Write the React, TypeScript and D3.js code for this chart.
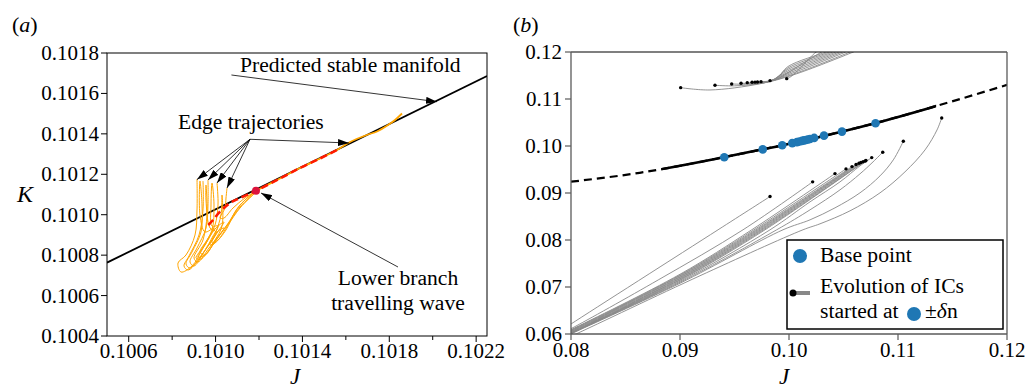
import React from 'react';
import * as d3 from 'd3';

type P = [number, number];
const FONT = '"Liberation Serif"';

// ---------------- Panel (a) data ----------------
const aJMajor = [0.1006, 0.101, 0.1014, 0.1018, 0.1022];
const aJMinor = [0.1008, 0.1012, 0.1016, 0.102];
const aKTicks = [0.1004, 0.1006, 0.1008, 0.101, 0.1012, 0.1014, 0.1016, 0.1018];
const stableManifold: P[] = [[0.1005, 0.100763], [0.10225, 0.101686]];
const lbWave: P = [0.1011862, 0.1011188];

const edgeTraj1: P[] = [
  [0.1009145, 0.1011767], [0.1009145, 0.1010233], [0.1009053, 0.1008996], [0.1008638, 0.1008007],
  [0.100827, 0.1007611], [0.1008408, 0.1007166], [0.1008915, 0.1007463], [0.1009375, 0.1008254],
  [0.1009743, 0.1008947], [0.1009928, 0.1009343], [0.1009513, 0.1009145], [0.1009283, 0.1009986],
  [0.1009283, 0.1011668], [0.1009375, 0.1010481], [0.1009329, 0.1009145], [0.1008915, 0.1008155],
  [0.1008638, 0.1007562], [0.1008822, 0.1007364], [0.1009283, 0.1007908], [0.100979, 0.100865],
  [0.1010158, 0.1009244], [0.1010388, 0.1009639], [0.1009974, 0.1009293], [0.1009513, 0.1008502],
  [0.1009099, 0.1007859], [0.1009329, 0.1007809], [0.1009836, 0.1008452], [0.1010296, 0.1009145],
  [0.1010618, 0.1009639], [0.1011125, 0.1010481], [0.1011862, 0.1011173],
];
const edgeTraj2: P[] = [
  [0.1009651, 0.1011717], [0.1009651, 0.1010481], [0.1009559, 0.1009343], [0.1009145, 0.1008353],
  [0.1008822, 0.1007661], [0.1009007, 0.1007463], [0.1009467, 0.1008155], [0.1009882, 0.1008947],
  [0.1010112, 0.1009442], [0.1009836, 0.1009442], [0.100979, 0.1010481], [0.1009836, 0.1011569],
  [0.1009928, 0.1010481], [0.1009836, 0.1009244], [0.1009421, 0.1008403], [0.1009191, 0.1007908],
  [0.1009513, 0.1008007], [0.101002, 0.1008749], [0.1010388, 0.1009343], [0.1010066, 0.1009145],
  [0.1009743, 0.1008502], [0.1009974, 0.1008601], [0.101048, 0.1009244], [0.1010895, 0.1010134],
  [0.1011355, 0.1010728], [0.1011862, 0.1011173],
];
const edgeTraj3: P[] = [
  [0.1010066, 0.1011569], [0.1010112, 0.1010481], [0.1009974, 0.1009491], [0.1009605, 0.1008749],
  [0.1009283, 0.1008155], [0.1009513, 0.1008007], [0.1009974, 0.1008749], [0.1010296, 0.1009442],
  [0.1010296, 0.1010975], [0.101025, 0.1009986], [0.101002, 0.1009145], [0.1009836, 0.1008601],
  [0.1010112, 0.1008749], [0.1010572, 0.1009491], [0.1011125, 0.1010332], [0.1011862, 0.1011124],
];
const edgeTraj4: P[] = [
  [0.1010526, 0.1011322], [0.101048, 0.1010827], [0.1010434, 0.1010332], [0.1010204, 0.1009837],
  [0.1010388, 0.1009837], [0.1010803, 0.1010332], [0.1011355, 0.1010827], [0.1011862, 0.1011173],
];
const edgeTraj5: P[] = [
  [0.1009421, 0.1011668], [0.1009421, 0.1010233], [0.1009237, 0.1008996], [0.1008776, 0.1007958],
  [0.1008546, 0.1007463], [0.100873, 0.1007265], [0.1009145, 0.1007661], [0.1009605, 0.1008403],
  [0.101002, 0.1009145], [0.1009743, 0.1009343], [0.1009559, 0.1010728], [0.1009559, 0.101147],
  [0.1009605, 0.1009986], [0.1009421, 0.1008749], [0.1009007, 0.1007859], [0.1009191, 0.1007661],
  [0.1009697, 0.1008353], [0.1010204, 0.1009046], [0.1010572, 0.1009541], [0.1011125, 0.1010382],
  [0.1011862, 0.1011124],
];
const convergedTraj: P[] = [
  [0.1011862, 0.1011188], [0.1012967, 0.1011792], [0.1013888, 0.1012311], [0.1014809, 0.1012781],
  [0.1015592, 0.1013201], [0.1016191, 0.1013597], [0.101696, 0.1013943], [0.1017434, 0.1014117],
  [0.1017941, 0.1014438], [0.1018263, 0.1014686], [0.1018586, 0.1015007],
];
const unstableManifold: P[] = [
  [0.1009665, 0.1009491], [0.1009882, 0.1009739], [0.1010204, 0.1010149], [0.1010664, 0.1010579],
  [0.1011125, 0.1010827], [0.1011862, 0.1011188], [0.1012967, 0.1011792], [0.1013888, 0.1012311],
  [0.1014809, 0.1012781], [0.1015592, 0.1013201],
];

// ---------------- Panel (b) data ----------------
const bJTicks = [0.08, 0.09, 0.1, 0.11, 0.12];
const bKTicks = [0.06, 0.07, 0.08, 0.09, 0.1, 0.11, 0.12];
const bManifold: P[] = [
  [0.08, 0.0924], [0.0863, 0.0943], [0.094, 0.0976], [0.0976, 0.0993], [0.1003, 0.1006],
  [0.1049, 0.1031], [0.1079, 0.10485], [0.1135, 0.1085], [0.12, 0.113],
];
const bSolidRange = [0.0883, 0.1135];
const baseJ = [0.09406, 0.09759, 0.09938, 0.1003, 0.10073, 0.10096, 0.10119, 0.10138, 0.10156, 0.10174, 0.10193, 0.10231, 0.10321, 0.10486, 0.10794];
const baseK = [0.09762, 0.09928, 0.10017, 0.10061, 0.10083, 0.10096, 0.10108, 0.10119, 0.10128, 0.10138, 0.10149, 0.10172, 0.1022, 0.10306, 0.10485];

const upperTraj: P[][] = [
  [[0.09006, 0.11241], [0.09275, 0.11192], [0.09734, 0.11324], [0.10037, 0.11511], [0.1059, 0.12], [0.1066, 0.1207]],
  [[0.09321, 0.11292], [0.095, 0.1128], [0.0976, 0.1134], [0.1004, 0.1153], [0.1056, 0.12], [0.1063, 0.1207]],
  [[0.09474, 0.1132], [0.096, 0.11315], [0.0978, 0.1135], [0.1003, 0.1155], [0.1052, 0.12], [0.1059, 0.1207]],
  [[0.0956, 0.11335], [0.0968, 0.11335], [0.098, 0.1136], [0.1002, 0.1157], [0.1049, 0.12], [0.1056, 0.1207]],
  [[0.09617, 0.11348], [0.0972, 0.11345], [0.0982, 0.11375], [0.1001, 0.1159], [0.1046, 0.12], [0.1053, 0.1207]],
  [[0.09661, 0.11356], [0.0975, 0.11355], [0.0983, 0.11385], [0.1, 0.1161], [0.1043, 0.12], [0.105, 0.1207]],
  [[0.09688, 0.11358], [0.0977, 0.1136], [0.0985, 0.114], [0.0999, 0.1163], [0.104, 0.12], [0.1047, 0.1207]],
  [[0.09711, 0.11362], [0.0979, 0.1137], [0.0987, 0.1142], [0.0999, 0.1166], [0.1037, 0.12], [0.1044, 0.1207]],
  [[0.09743, 0.11369], [0.0981, 0.1138], [0.0989, 0.1144], [0.0999, 0.1169], [0.1034, 0.12], [0.1041, 0.1207]],
  [[0.09826, 0.1139], [0.0988, 0.1141], [0.0995, 0.115], [0.103, 0.12], [0.1037, 0.1207]],
  [[0.09979, 0.11433], [0.1002, 0.1148], [0.101, 0.1165], [0.1025, 0.12], [0.1032, 0.1207]],
];

const lowerTraj: P[][] = [
  [[0.09826, 0.08925], [0.09349, 0.08217], [0.08, 0.06213], [0.079, 0.0606]],
  [[0.10217, 0.09237], [0.09578, 0.08217], [0.088, 0.0715], [0.08, 0.06113], [0.079, 0.06]],
  [[0.10422, 0.09413], [0.09658, 0.08217], [0.09, 0.07271], [0.08, 0.06091], [0.079, 0.0598]],
  [[0.10523, 0.09513], [0.09679, 0.08217], [0.09, 0.07254], [0.08, 0.06081], [0.079, 0.0597]],
  [[0.10578, 0.09562], [0.09697, 0.08217], [0.09, 0.07239], [0.08, 0.0607], [0.079, 0.0596]],
  [[0.10615, 0.09605], [0.09711, 0.08217], [0.09, 0.07222], [0.08, 0.06059], [0.079, 0.0595]],
  [[0.10642, 0.09634], [0.09725, 0.08217], [0.09, 0.07207], [0.08, 0.06049], [0.079, 0.0594]],
  [[0.1066, 0.0965], [0.09739, 0.08217], [0.09, 0.0719], [0.08, 0.06038], [0.079, 0.0593]],
  [[0.1068, 0.09665], [0.09752, 0.08217], [0.09, 0.07175], [0.08, 0.06028], [0.079, 0.0592]],
  [[0.107, 0.0968], [0.09766, 0.08217], [0.09, 0.07158], [0.08, 0.06021], [0.079, 0.0591]],
  [[0.10706, 0.0969], [0.0978, 0.08217], [0.09, 0.07143], [0.08, 0.06015], [0.079, 0.059]],
  [[0.10759, 0.09753], [0.10651, 0.09577], [0.10468, 0.09237], [0.10193, 0.08812], [0.09826, 0.08217], [0.09, 0.07122], [0.08, 0.06011], [0.079, 0.0589]],
  [[0.1086, 0.09868], [0.10771, 0.09662], [0.10651, 0.09407], [0.10468, 0.09067], [0.10193, 0.08642], [0.09887, 0.08217], [0.09, 0.07101], [0.08, 0.06006], [0.079, 0.0589]],
  [[0.11049, 0.10102], [0.10957, 0.09705], [0.10835, 0.09364], [0.10651, 0.09003], [0.10422, 0.08684], [0.10193, 0.08429], [0.09945, 0.08217], [0.09, 0.0708], [0.08, 0.06002], [0.079, 0.0589]],
  [[0.11401, 0.10597], [0.11358, 0.10342], [0.11248, 0.09917], [0.11064, 0.0945], [0.10835, 0.09003], [0.1056, 0.08621], [0.10284, 0.08344], [0.10128, 0.08217], [0.09183, 0.07239], [0.08046, 0.06], [0.0795, 0.059]],
];

// annotation anchors (data coordinates of panel a)
const annPSM = { text: [0.1011125, 0.101706] as P, tail: [0.101073, 0.1016912] as P, tip: [0.1020197, 0.101559] as P };
const annEdge = {
  text: [0.100827, 0.101424] as P,
  tail: [0.1011586, 0.1013731] as P,
  tips: [[0.1009145, 0.1011742], [0.1009651, 0.1011717], [0.1010066, 0.1011569], [0.1010526, 0.1011322], [0.1016145, 0.1013548]] as P[],
};
const annLB = { tail: [0.1018401, 0.1007413] as P, tip: [0.1012092, 0.1011074] as P, text: [0.1018401, 0.1006523] as P, text2: [0.1018401, 0.1005286] as P };

function T(props: any) {
  const { children, ...rest } = props;
  return <text {...rest} style={{ fontFamily: FONT }}>{children}</text>;
}

export default function App() {
  const W = 1028, H = 388;
  // Panel a
  const aL = 107, aR = 487, aT = 53, aB = 336;
  const ax = d3.scaleLinear().domain([0.1005, 0.10225]).range([aL, aR]);
  const ay = d3.scaleLinear().domain([0.1004, 0.1018]).range([aB, aT]);
  const lineA = d3.line<P>().x(d => ax(d[0])).y(d => ay(d[1])).curve(d3.curveCatmullRom.alpha(0.5));
  const straightA = d3.line<P>().x(d => ax(d[0])).y(d => ay(d[1]));
  // Panel b
  const bL = 571, bR = 1007, bT = 52, bB = 334;
  const bx = d3.scaleLinear().domain([0.08, 0.12]).range([bL, bR]);
  const by = d3.scaleLinear().domain([0.06, 0.12]).range([bB, bT]);
  const lineB = d3.line<P>().x(d => bx(d[0])).y(d => by(d[1])).curve(d3.curveCatmullRom.alpha(0.5));
  const lineBm = d3.line<P>().x(d => bx(d[0])).y(d => by(d[1])).curve(d3.curveMonotoneX);

  const fs = 21;
  const fa = 21.6;
  const gray = '#5a5a5a';
  const orange = '#ffa500';
  const edges = [edgeTraj1, edgeTraj5, edgeTraj2, edgeTraj3, edgeTraj4];

  const arrow = (from: P, to: P, key: string) => (
    <line key={key} x1={ax(from[0])} y1={ay(from[1])} x2={ax(to[0])} y2={ay(to[1])}
      stroke="#000" strokeWidth={0.8} markerEnd="url(#arrowHead)" />
  );

  return (
    <svg width={W} height={H} style={{ position: 'absolute', left: 0, top: 0 }}>
      <defs>
        <marker id="arrowHead" viewBox="0 0 11 7" refX={11} refY={3.5} markerWidth={11} markerHeight={7}
          markerUnits="userSpaceOnUse" orient="auto">
          <path d="M0,0 L11,3.5 L0,7 z" fill="#000" />
        </marker>
        <clipPath id="clipA"><rect x={aL} y={aT} width={aR - aL} height={aB - aT} /></clipPath>
        <clipPath id="clipB"><rect x={bL} y={bT} width={bR - bL} height={bB - bT} /></clipPath>
        <clipPath id="clipSolid">
          <rect x={bx(bSolidRange[0])} y={bT} width={bx(bSolidRange[1]) - bx(bSolidRange[0])} height={bB - bT} />
        </clipPath>
      </defs>
      <rect x={0} y={0} width={W} height={H} fill="#fff" />

      {/* ================= Panel (a) ================= */}
      <T x={12} y={32} fontSize={22}>(<tspan fontStyle="italic">a</tspan>)</T>
      <g clipPath="url(#clipA)">
        <path d={straightA(stableManifold) || ''} stroke="#000" strokeWidth={1.8} fill="none" />
        {edges.map((t, i) => (
          <path key={'e' + i} d={lineA(t) || ''} stroke={orange} strokeWidth={1} fill="none" />
        ))}
        <path d={lineA(convergedTraj) || ''} stroke={orange} strokeWidth={1.8} fill="none" />
        <path d={lineA(unstableManifold) || ''} stroke="#ff1a00" strokeWidth={2.6} fill="none" strokeDasharray="7 4" />
        <circle cx={ax(lbWave[0])} cy={ay(lbWave[1])} r={4} fill="#dc143c" />
      </g>
      {/* axes a */}
      <rect x={aL} y={aT} width={aR - aL} height={aB - aT} fill="none" stroke="#000" strokeWidth={1} />
      {aKTicks.map(k => (
        <g key={'ak' + k}>
          <line x1={aL - 6} x2={aL} y1={ay(k)} y2={ay(k)} stroke="#000" />
          <T x={aL - 8} y={ay(k) + 7} textAnchor="end" fontSize={fs}>{k.toFixed(4)}</T>
        </g>
      ))}
      {aJMajor.map(j => (
        <g key={'aj' + j}>
          <line x1={ax(j)} x2={ax(j)} y1={aB} y2={aB + 6} stroke="#000" />
          <T x={ax(j)} y={aB + 22} textAnchor="middle" fontSize={fs}>{j.toFixed(4)}</T>
        </g>
      ))}
      {aJMinor.map(j => (
        <line key={'ajm' + j} x1={ax(j)} x2={ax(j)} y1={aB} y2={aB + 4} stroke="#000" />
      ))}
      <T x={17} y={202} fontSize={24} fontStyle="italic">K</T>
      <T x={290} y={384} fontSize={23} fontStyle="italic">J</T>

      {/* annotations a */}
      <T x={ax(annPSM.text[0])} y={ay(annPSM.text[1])} fontSize={fa}>Predicted stable manifold</T>
      {arrow(annPSM.tail, annPSM.tip, 'psm')}
      <T x={ax(annEdge.text[0])} y={ay(annEdge.text[1])} fontSize={fa}>Edge trajectories</T>
      {annEdge.tips.map((t, i) => arrow(annEdge.tail, t, 'et' + i))}
      {arrow(annLB.tail, annLB.tip, 'lb')}
      <T x={ax(annLB.text[0])} y={ay(annLB.text[1])} textAnchor="middle" fontSize={fa}>Lower branch</T>
      <T x={ax(annLB.text2[0])} y={ay(annLB.text2[1])} textAnchor="middle" fontSize={fa}>travelling wave</T>

      {/* ================= Panel (b) ================= */}
      <T x={513} y={32} fontSize={22}>(<tspan fontStyle="italic">b</tspan>)</T>
      <g clipPath="url(#clipB)">
        {upperTraj.map((t, i) => (
          <path key={'u' + i} d={lineB(t) || ''} stroke="#888" strokeWidth={0.9} fill="none" />
        ))}
        {lowerTraj.map((t, i) => (
          <path key={'l' + i} d={lineB(t) || ''} stroke="#888" strokeWidth={0.9} fill="none" />
        ))}
        {upperTraj.concat(lowerTraj).map((t, i) => (
          <circle key={'d' + i} cx={bx(t[0][0])} cy={by(t[0][1])} r={1.7} fill="#000" />
        ))}
        <path d={lineBm(bManifold) || ''} stroke="#000" strokeWidth={2.2} fill="none" strokeDasharray="8 5" />
        <g clipPath="url(#clipSolid)">
          <path d={lineBm(bManifold) || ''} stroke="#000" strokeWidth={2.6} fill="none" />
        </g>
        {baseJ.map((j, i) => (
          <circle key={'bp' + i} cx={bx(j)} cy={by(baseK[i])} r={4.3} fill="#1f77b4" />
        ))}
      </g>
      {/* axes b */}
      <line x1={bL} x2={bR} y1={bT} y2={bT} stroke="#000" strokeWidth={1.1} />
      <line x1={bL} x2={bL} y1={bT} y2={bB} stroke={gray} strokeWidth={1.3} />
      <line x1={bR} x2={bR} y1={bT} y2={bB} stroke={gray} strokeWidth={1.3} />
      <line x1={bL} x2={bR} y1={bB} y2={bB} stroke={gray} strokeWidth={1.3} />
      {bKTicks.map(k => (
        <g key={'bk' + k}>
          <line x1={bL - 6} x2={bL} y1={by(k)} y2={by(k)} stroke={gray} strokeWidth={1.2} />
          <T x={bL - 9} y={by(k) + 7} textAnchor="end" fontSize={fs}>{k.toFixed(2)}</T>
        </g>
      ))}
      {bJTicks.map(j => (
        <g key={'bj' + j}>
          <line x1={bx(j)} x2={bx(j)} y1={bB} y2={bB + 6} stroke={gray} strokeWidth={1.2} />
          <T x={bx(j)} y={bB + 23} textAnchor="middle" fontSize={fs}>{j.toFixed(2)}</T>
        </g>
      ))}
      <T x={779} y={384} fontSize={23} fontStyle="italic">J</T>

      {/* legend */}
      <rect x={787} y={240} width={216} height={89} fill="#fff" stroke="#000" strokeWidth={1.5} />
      <circle cx={800} cy={256} r={7} fill="#1f77b4" />
      <T x={820} y={262} fontSize={fa}>Base point</T>
      <line x1={793} x2={810} y1={293} y2={293} stroke="#888" strokeWidth={4} />
      <circle cx={793} cy={293} r={3.5} fill="#000" />
      <T x={820} y={293} fontSize={fa}>Evolution of ICs</T>
      <T x={820} y={318} fontSize={fa}>started at</T>
      <circle cx={914} cy={314} r={7} fill="#1f77b4" />
      <T x={925} y={318} fontSize={fa}>±<tspan fontStyle="italic">δ</tspan>n</T>
    </svg>
  );
}
